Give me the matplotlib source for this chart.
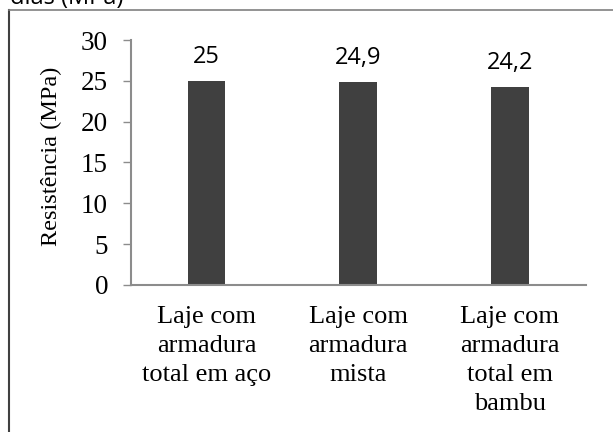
import numpy as np
import matplotlib.pyplot as plt
from matplotlib.lines import Line2D

categories = ["Laje com\narmadura\ntotal em aço",
              "Laje com\narmadura\nmista",
              "Laje com\narmadura\ntotal em\nbambu"]
values = [25, 24.9, 24.2]
value_labels = ["25", "24,9", "24,2"]
yticks = [0, 5, 10, 15, 20, 25, 30]

serif = "Liberation Serif"
sans = "Open Sans"
grey = "#8c8c8c"

fig = plt.figure(figsize=(6.13, 4.32), dpi=100)
ax = fig.add_axes([0.2132, 0.3403, 0.7423, 0.5671])

x = np.arange(len(categories))
ax.bar(x, values, width=0.25, color="#404040")

for xi, v, lab in zip(x, values, value_labels):
    ax.annotate(lab, (xi, v), xytext=(0, 13), textcoords="offset points",
                ha="center", va="baseline", fontsize=17, family=sans)

ax.set_xlim(-0.5, 2.5)
ax.set_ylim(0, 30)
ax.set_yticks(yticks)
ax.set_yticklabels([str(t) for t in yticks], fontsize=19.5, family=serif)
ax.set_xticks(x)
ax.set_xticklabels(categories, fontsize=19, family=serif, linespacing=1.42)
ax.tick_params(axis="y", length=5.8, width=1, color=grey, pad=10.5)
ax.tick_params(axis="x", length=0, pad=15)

for s in ["top", "right"]:
    ax.spines[s].set_visible(False)
for s in ["left", "bottom"]:
    ax.spines[s].set_color(grey)
    ax.spines[s].set_linewidth(1.5)

ax.set_ylabel("Resistência (MPa)", fontsize=17.5, family=serif)
ax.yaxis.set_label_coords(-0.151, 0.527)

# outer frame (only top and left edges fall inside the picture)
fig.add_artist(Line2D([8.7 / 613, 8.7 / 613], [0, 1 - 10 / 432],
                      transform=fig.transFigure, color="#404040", lw=1.5))
fig.add_artist(Line2D([8.7 / 613, 1], [1 - 10 / 432, 1 - 10 / 432],
                      transform=fig.transFigure, color="#808080", lw=1.2))

# caption text cut off at the top edge, as in the source
fig.text(10 / 613, 1 - 4 / 432, "dias (MPa)", fontsize=17, family=sans,
         ha="left", va="baseline")

fig.savefig("out.png", dpi=100)
